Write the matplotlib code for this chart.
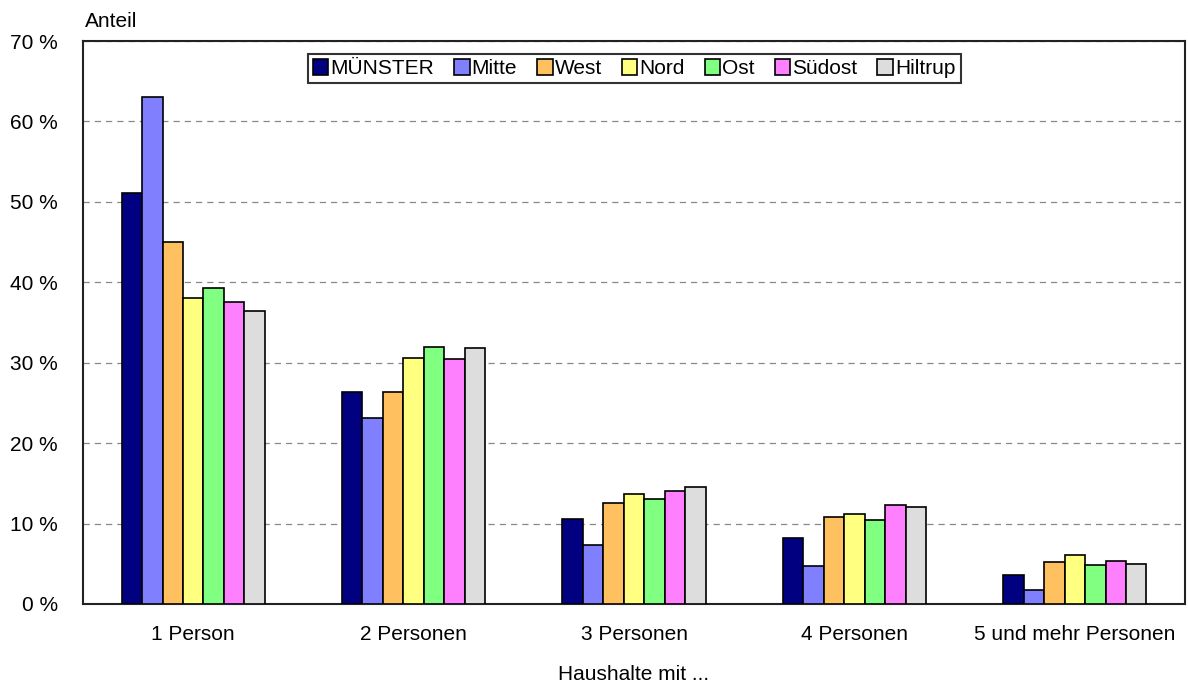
import numpy as np
import matplotlib
matplotlib.use("Agg")
import matplotlib.pyplot as plt

plt.rcParams['font.family'] = ['Liberation Sans', 'DejaVu Sans']

categories = ['1 Person', '2 Personen', '3 Personen', '4 Personen', '5 und mehr Personen']
regions = ['MÜNSTER', 'Mitte', 'West', 'Nord', 'Ost', 'Südost', 'Hiltrup']

muenster = [51.1, 26.4, 10.6, 8.2, 3.6]
mitte    = [63.1, 23.1, 7.3, 4.7, 1.7]
west     = [45.0, 26.4, 12.5, 10.8, 5.2]
nord     = [38.1, 30.6, 13.7, 11.2, 6.1]
ost      = [39.3, 31.9, 13.0, 10.5, 4.9]
suedost  = [37.6, 30.5, 14.1, 12.3, 5.3]
hiltrup  = [36.4, 31.8, 14.5, 12.1, 5.0]

series = [muenster, mitte, west, nord, ost, suedost, hiltrup]
colors = ['#000080', '#8080FF', '#FFC060', '#FFFF80', '#80FF80', '#FF80FF', '#DDDDDD']

fs = 15

fig = plt.figure(figsize=(11.88, 6.84), dpi=100)
ax = fig.add_axes([0.0699, 0.117, 0.9276, 0.823])

x = np.arange(len(categories))
w = 0.65 / len(series)
for i, (vals, c, name) in enumerate(zip(series, colors, regions)):
    ax.bar(x - 0.325 + w * (i + 0.5), vals, w, color=c, edgecolor='black',
           linewidth=1.2, label=name, zorder=3)

ax.set_xlim(-0.5, len(categories) - 0.5)
ax.set_ylim(0, 70)
ax.set_yticks(range(0, 71, 10))
ax.set_yticklabels([f'{v} %' for v in range(0, 71, 10)], fontsize=fs)
ax.set_xticks(x)
ax.set_xticklabels(categories, fontsize=fs)
ax.tick_params(axis='x', length=0, pad=15)
ax.tick_params(axis='y', length=0, pad=18)

ax.yaxis.grid(True, linestyle=(0, (5, 4)), color='#888888', linewidth=0.9, zorder=0)
for s in ax.spines.values():
    s.set_linewidth(1.5)
    s.set_color('#222222')

ax.set_xlabel('Haushalte mit ...', fontsize=fs, labelpad=15)
fig.text(0.0715, 0.968, 'Anteil', fontsize=fs, ha='left', va='center')

leg = ax.legend(loc='upper center', bbox_to_anchor=(0.5, 0.977), ncol=7, fontsize=fs,
                frameon=True, fancybox=False, handlelength=0.75, handleheight=0.75,
                handletextpad=0.1, columnspacing=0.95, borderpad=0.25, borderaxespad=0)
leg.get_frame().set_edgecolor('black')
leg.get_frame().set_linewidth(1.5)

fig.savefig('out.png', dpi=100)
